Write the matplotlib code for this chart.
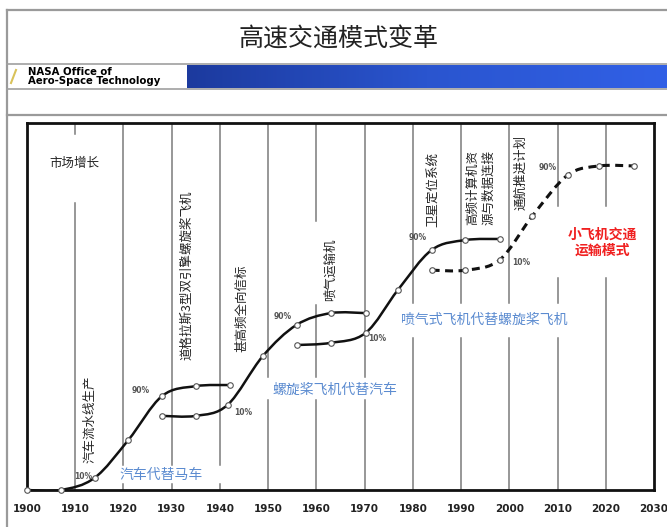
"""
高速交通模式变革 - NASA S-curve slide, redrawn with matplotlib.
"""

import numpy as np
import matplotlib.pyplot as plt
from matplotlib.path import Path
from matplotlib.patches import PathPatch
from matplotlib.lines import Line2D
from matplotlib.colors import LinearSegmentedColormap

plt.rcParams['font.family'] = ['Noto Sans CJK SC', 'DejaVu Sans']

# data: year / market level (0-100 of axis height)
car_years = [1900, 1907, 1914, 1921, 1928, 1935, 1942]
car_level = [0, 0, 3.3, 13.6, 25.6, 28.3, 28.6]

prop_years = [1928, 1935, 1941.6, 1948.9, 1955.9, 1963, 1970.2]
prop_level = [20.2, 20.2, 23.2, 36.5, 45.0, 48.2, 48.2]

jet_years = [1955.9, 1963, 1970.2, 1976.9, 1983.9, 1990.9, 1998]
jet_level = [39.5, 40.1, 42.8, 54.5, 65.4, 68.1, 68.4]

sats_years = [1983.9, 1990.9, 1998, 2004.8, 2012.1, 2018.7, 2025.8]
sats_level = [59.9, 59.9, 62.7, 74.7, 85.8, 88.3, 88.3]

decades = list(range(1900, 2031, 10))
tick_labels = [str(d) for d in decades]

W, H = 667, 527


def fx(px):
    return px / W


def fy(py):
    return 1 - py / H


def smooth_path(xs, ys):
    # catmull-rom through the read points, drawn as bezier segments
    pts = np.column_stack([xs, ys]).astype(float)
    ext = np.vstack([pts[0], pts, pts[-1]])
    verts = [pts[0]]
    codes = [Path.MOVETO]
    for i in range(len(pts) - 1):
        p0, p1, p2, p3 = ext[i], ext[i+1], ext[i+2], ext[i+3]
        verts += [p1 + (p2 - p0) / 6, p2 - (p3 - p1) / 6, p2]
        codes += [Path.CURVE4] * 3
    return Path(verts, codes)


fig = plt.figure(figsize=(W / 100, H / 100), dpi=100)

# slide frame
frame = dict(color='#9a9a9a', lw=1.6, transform=fig.transFigure)
fig.add_artist(Line2D([fx(7), fx(7)], [fy(10), 0], **frame))
fig.add_artist(Line2D([fx(7), 1], [fy(10), fy(10)], **frame))
fig.add_artist(Line2D([fx(7), 1], [fy(115), fy(115)], **frame))
fig.text(fx(338), fy(40), '高速交通模式变革', ha='center', va='center',
         fontsize=18, color='#222222')

# header bar
fig.add_artist(Line2D([fx(7), 1], [fy(64), fy(64)], color='#a0a0a0', lw=1.2,
                      transform=fig.transFigure))
fig.add_artist(Line2D([fx(7), 1], [fy(89), fy(89)], color='#a0a0a0', lw=1.2,
                      transform=fig.transFigure))
hax = fig.add_axes([fx(187), fy(88), fx(667 - 187), (88 - 65) / H])
grad = np.linspace(0, 1, 256).reshape(1, -1)
blues = LinearSegmentedColormap.from_list('bar', ['#1c3a9e', '#2a55cf', '#3160e6'])
hax.imshow(grad, aspect='auto', cmap=blues)
hax.axis('off')
fig.add_artist(Line2D([fx(11), fx(16)], [fy(83), fy(70)], color='#d9c25a', lw=1.5,
                      transform=fig.transFigure))
fig.text(fx(28), fy(71.5), 'NASA Office of', fontsize=7.3, fontweight='bold',
         va='center', family=['DejaVu Sans'])
fig.text(fx(28), fy(81.5), 'Aero-Space Technology', fontsize=7.3, fontweight='bold',
         va='center', family=['DejaVu Sans'])

# chart
ax = fig.add_axes([fx(27), fy(490), fx(654 - 27), (490 - 123) / H])
ax.set_xlim(1900, 2030)
ax.set_ylim(0, 100)
for s in ax.spines.values():
    s.set_linewidth(2)
    s.set_color('#111111')
ax.set_yticks([])
ax.set_xticks(decades)
ax.set_xticklabels(tick_labels, fontsize=7.5, fontweight='bold',
                   family=['DejaVu Sans'], color='#222222')
ax.tick_params(axis='x', length=0, pad=10)

# decade lines, broken where the slide's labels sit (pixel rows top->bottom)
gaps = {
    1910: [(123, 134), (203, 490)],
    1920: [(123, 465), (484, 490)],
    1930: [(123, 465), (484, 490)],
    1940: [(123, 465), (484, 490)],
    1950: [(123, 377), (400, 490)],
    1960: [(123, 221), (305, 377), (400, 490)],
    1970: [(123, 377), (400, 490)],
    1980: [(123, 303), (338, 490)],
    1990: [(123, 303), (338, 490)],
    2000: [(123, 303), (338, 490)],
    2010: [(123, 206), (278, 303), (338, 490)],
    2020: [(123, 206), (278, 490)],
}
for x, segs in gaps.items():
    for top, bot in segs:
        ax.axvline(x, ymin=(490 - bot) / 367, ymax=(490 - top) / 367,
                   color='#7a7a7a', lw=1.1, zorder=1)

solid = [(car_years, car_level), (prop_years, prop_level), (jet_years, jet_level)]
for xs, ys in solid:
    ax.add_patch(PathPatch(smooth_path(xs, ys), fill=False, color='#111111',
                           lw=1.8, zorder=3, capstyle='round'))
    ax.plot(xs, ys, 'o', ms=4, mfc='white', mec='#555555', mew=0.8, zorder=5,
            clip_on=False)

ax.add_patch(PathPatch(smooth_path(sats_years, sats_level), fill=False,
                       color='#111111', lw=2.2, ls=(0, (2.6, 1.8)), zorder=3))
ax.plot(sats_years, sats_level, 'o', ms=4, mfc='white', mec='#555555', mew=0.8,
        zorder=5)

# percent marks
pct = [(1911.6, 3.8, '10%'), (1923.6, 27.2, '90%'), (1944.8, 21.0, '10%'),
       (1953.0, 47.4, '90%'), (1972.6, 41.4, '10%'), (1981.0, 68.7, '90%'),
       (2002.4, 62.1, '10%'), (2007.9, 88.0, '90%')]
for x, y, t in pct:
    ax.text(x, y, t, fontsize=5.5, fontweight='bold', color='#555555',
            ha='center', va='center', family=['DejaVu Sans'])

# milestones
ax.text(1909.9, 89.1, '市场增长', fontsize=9, ha='center', va='center',
        color='#222222')
vert = [(1913.1, 19.3, '汽车流水线生产'),
        (1933.1, 58.6, '道格拉斯3型双引擎螺旋桨飞机'),
        (1944.5, 49.6, '甚高频全向信标'),
        (1962.8, 59.9, '喷气运输机'),
        (1984.1, 82.0, '卫星定位系统'),
        (1994.1, 82.3, '高频计算机资\n源与数据连接'),
        (2002.3, 86.4, '通航推进计划')]
for x, y, t in vert:
    ax.text(x, y, t, fontsize=9, rotation=90, ha='center', va='center',
            color='#222222', linespacing=1.35)

blue = '#5b8bd0'
ax.text(1927.8, 4.1, '汽车代替马车', fontsize=10, color=blue, ha='center', va='center')
ax.text(1963.8, 27.2, '螺旋桨飞机代替汽车', fontsize=10, color=blue,
        ha='center', va='center')
ax.text(1994.9, 46.3, '喷气式飞机代替螺旋桨飞机', fontsize=10, color=blue,
        ha='center', va='center')
ax.text(2019.3, 67.3, '小飞机交通\n运输模式', fontsize=10, color='#f02020',
        ha='center', va='center', fontweight='bold', linespacing=1.2)

fig.savefig('out.png', dpi=100)
